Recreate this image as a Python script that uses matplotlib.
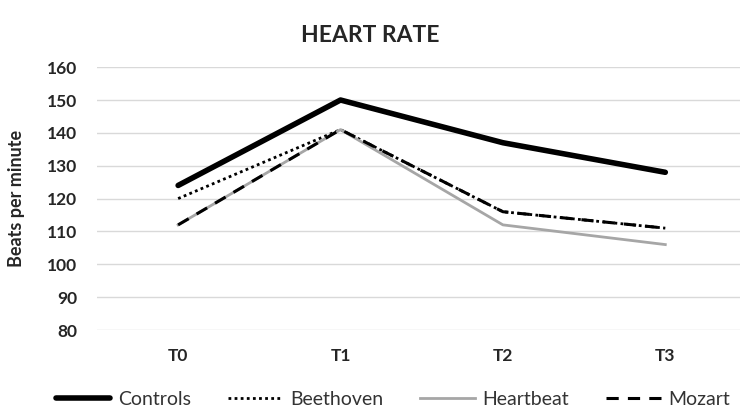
import matplotlib
matplotlib.use("Agg")
import matplotlib.pyplot as plt

categories = ["T0", "T1", "T2", "T3"]
controls = [124, 150, 137, 128]
beethoven = [120, 141, 116, 111]
heartbeat = [112, 141, 112, 106]
mozart = [112, 141, 116, 111]
yticks = [80, 90, 100, 110, 120, 130, 140, 150, 160]

plt.rcParams['font.family'] = ['Lato', 'DejaVu Sans']

fig = plt.figure(figsize=(7.4, 4.12), dpi=100)
ax = fig.add_axes([0.131, 0.199, 0.869, 0.638])
x = list(range(len(categories)))

ax.plot(x, controls, color="black", lw=4.0, solid_capstyle="round", label="Controls", zorder=3)
ax.plot(x, beethoven, color="black", lw=2.0, linestyle=(0, (1, 1.2)), label="Beethoven", zorder=4)
ax.plot(x, heartbeat, color="#a6a6a6", lw=2.0, label="Heartbeat", zorder=5)
ax.plot(x, mozart, color="black", lw=2.2, linestyle=(0, (4, 3)), label="Mozart", zorder=6)

ax.set_xlim(-0.5, 3.46)
ax.set_ylim(80, 160)
ax.set_yticks(yticks)
ax.set_xticks(x)
ax.set_xticklabels(categories)
ax.grid(axis="y", color="#d9d9d9", lw=1.0)
ax.set_axisbelow(True)
for s in ax.spines.values():
    s.set_visible(False)
ax.tick_params(length=0, labelsize=12.5, colors="#262626")
for lab in ax.get_xticklabels() + ax.get_yticklabels():
    lab.set_fontweight("bold")
ax.tick_params(axis="y", pad=14)
ax.tick_params(axis="x", pad=13)
ax.set_ylabel("Beats per minute", fontsize=13, fontweight="bold", color="#262626")
ax.yaxis.set_label_coords(-0.112, 0.5)
fig.text(0.5, 0.915, "HEART RATE", ha="center", va="center", fontsize=16.5, fontweight="bold", color="#262626")

fig.legend(loc="center", bbox_to_anchor=(0.531, 0.03), ncol=4, frameon=False,
           fontsize=14, handlelength=2.8, columnspacing=1.9, handletextpad=0.4,
           labelcolor="#333333")

fig.savefig("out.png", dpi=100)
